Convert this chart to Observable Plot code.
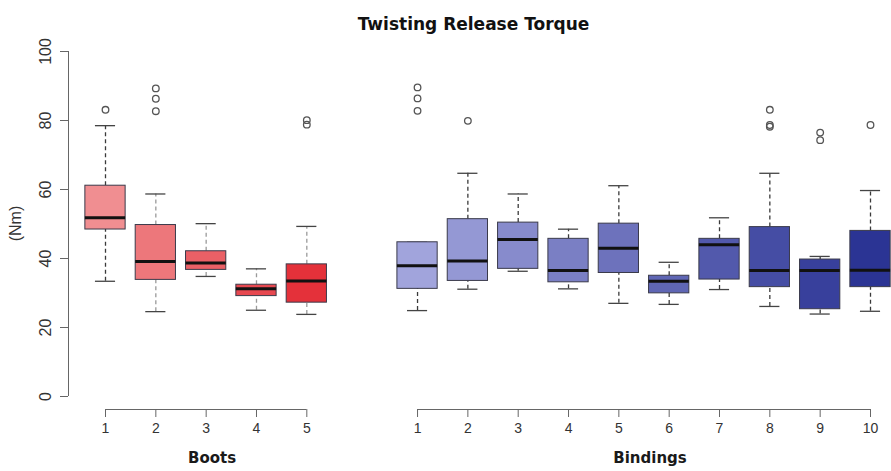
<!DOCTYPE html>
<html>
<head>
<meta charset="utf-8">
<script src="https://cdn.jsdelivr.net/npm/d3@7"></script>
<script src="https://cdn.jsdelivr.net/npm/@observablehq/plot@0.6"></script>
<style>
  html, body { margin: 0; padding: 0; background: #fff; }
  #chart { width: 891px; height: 471px; }
</style>
</head>
<body>
<div id="chart"></div>
<script>
// ---------- data ----------
const title = "Twisting Release Torque";
const yLabel = "(Nm)";
const yTicks = [0, 20, 40, 60, 80, 100];

const bootsName = "Boots";
const bootsLabels = ["1", "2", "3", "4", "5"];
const bootsLo  = [33.4, 24.6, 34.8, 25.0, 23.8];
const bootsQ1  = [48.4, 33.8, 36.7, 29.1, 27.2];
const bootsMed = [51.8, 39.1, 38.7, 31.2, 33.5];
const bootsQ3  = [61.1, 49.7, 42.1, 32.4, 38.3];
const bootsHi  = [78.5, 58.7, 50.1, 37.0, 49.3];
const bootsOut = [[83.1], [82.7, 86.3, 89.3], [], [], [78.8, 80.1]];

const bindingsName = "Bindings";
const bindingsLabels = ["1", "2", "3", "4", "5", "6", "7", "8", "9", "10"];
const bindingsLo  = [24.9, 31.1, 36.3, 31.2, 27.0, 26.7, 31.0, 26.1, 23.9, 24.7];
const bindingsQ1  = [31.2, 33.5, 37.0, 33.1, 35.8, 29.9, 33.9, 31.7, 25.3, 31.7];
const bindingsMed = [37.9, 39.3, 45.5, 36.5, 43.0, 33.4, 44.0, 36.5, 36.5, 36.6];
const bindingsQ3  = [44.7, 51.4, 50.4, 45.7, 50.1, 35.0, 45.7, 49.1, 39.7, 48.0];
const bindingsHi  = [44.7, 64.7, 58.7, 48.5, 61.1, 38.9, 51.8, 64.7, 40.6, 59.7];
const bindingsOut = [[82.8, 86.4, 89.6], [79.9], [], [], [], [], [], [78.2, 78.7, 83.1], [74.3, 76.5], [78.7]];

// ---------- layout (slot units) ----------
const bindingsOffset = 6.2;   // gap between the two panels, in slot units
const boxHalf = 0.4;
const capHalf = 0.2;
const W = 891, H = 471;
const mL = 68, mR = 21, mT = 51, mB = 62;
const firstPx = 105, lastPx = 870;
const lastSlot = bindingsLabels.length + bindingsOffset;
const pxPerSlot = (lastPx - firstPx) / (lastSlot - 1);
const xMin = 1 - (firstPx - mL) / pxPerSlot;

const bootsColor = d3.interpolateRgb("#f08e91", "#e4313a");
const bindingsColor = d3.interpolateRgb("#a1a4dc", "#2b3494");

function build(name, labels, lo, q1, med, q3, hi, out, offset, colorFn) {
  return labels.map((label, i) => ({
    group: name, label, slot: i + 1 + offset,
    lo: lo[i], q1: q1[i], med: med[i], q3: q3[i], hi: hi[i], out: out[i],
    color: colorFn(labels.length > 1 ? i / (labels.length - 1) : 0),
    whisker: (name === bootsName && i > 0) ? "#9a9a9a" : "#3a3a3a"
  }));
}
const rows = [
  ...build(bootsName, bootsLabels, bootsLo, bootsQ1, bootsMed, bootsQ3, bootsHi, bootsOut, 0, bootsColor),
  ...build(bindingsName, bindingsLabels, bindingsLo, bindingsQ1, bindingsMed, bindingsQ3, bindingsHi, bindingsOut, bindingsOffset, bindingsColor)
];
const outliers = rows.flatMap(r => r.out.map(v => ({slot: r.slot, v})));
const labelMap = new Map(rows.map(r => [r.slot, r.label]));
const groups = [bootsName, bindingsName].map(g => {
  const s = rows.filter(r => r.group === g).map(r => r.slot);
  return {name: g, a: d3.min(s), b: d3.max(s), mid: (d3.min(s) + d3.max(s)) / 2};
});

const boldFont = "'DejaVu Sans', Verdana, sans-serif";

const chart = Plot.plot({
  width: W, height: H,
  marginLeft: mL, marginRight: mR, marginTop: mT, marginBottom: mB,
  x: {domain: [xMin, lastSlot], axis: null},
  y: {domain: [0, 100], range: [H - mB - 13, mT], axis: null},
  style: {fontFamily: "'Liberation Sans', Arial, sans-serif", background: "#fff", color: "#333"},
  marks: [
    // y axis
    Plot.ruleX([xMin], {y1: 0, y2: 100, stroke: "#666"}),
    Plot.axisY(yTicks, {anchor: "left", tickSize: 8, tickFormat: () => "", stroke: "#666"}),
    Plot.text(yTicks, {x: xMin, y: d => d, text: d => String(d), rotate: -90, dx: -23,
      textAnchor: "middle", lineAnchor: "middle", fontSize: 16, fill: "#333"}),
    Plot.text([yLabel], {frameAnchor: "left", dx: -53, dy: -7, rotate: -90, fontSize: 16, fill: "#333",
      textAnchor: "middle", lineAnchor: "middle"}),
    // x axes
    Plot.ruleY(groups, {x1: "a", x2: "b", y: 0, dy: 13, stroke: "#666"}),
    Plot.axisX(rows.map(r => r.slot), {anchor: "bottom", tickSize: 8, tickPadding: 6,
      tickFormat: d => labelMap.get(d), fontSize: 14, stroke: "#666", fill: "#333"}),
    Plot.text(groups, {x: "mid", y: 0, dy: 62, dx: 6, text: "name", fontWeight: "bold", fontSize: 15,
      fontFamily: boldFont, fill: "#1a1a1a"}),
    // whiskers
    Plot.ruleX(rows, {x: "slot", y1: "q3", y2: "hi", stroke: "whisker", strokeDasharray: "4,3", strokeWidth: 1.3}),
    Plot.ruleX(rows, {x: "slot", y1: "lo", y2: "q1", stroke: "whisker", strokeDasharray: "4,3", strokeWidth: 1.3}),
    Plot.ruleY(rows, {x1: d => d.slot - capHalf, x2: d => d.slot + capHalf, y: "hi", stroke: "#444", strokeWidth: 1.3}),
    Plot.ruleY(rows, {x1: d => d.slot - capHalf, x2: d => d.slot + capHalf, y: "lo", stroke: "#444", strokeWidth: 1.3}),
    // boxes
    Plot.rect(rows, {x1: d => d.slot - boxHalf, x2: d => d.slot + boxHalf, y1: "q1", y2: "q3",
      fill: "color", stroke: "#3a3a4a", strokeWidth: 1}),
    Plot.ruleY(rows, {x1: d => d.slot - boxHalf, x2: d => d.slot + boxHalf, y: "med", stroke: "#111", strokeWidth: 3}),
    // outliers
    Plot.dot(outliers, {x: "slot", y: "v", r: 3.3, stroke: "#555", strokeWidth: 1.3, fill: "none"}),
    // title
    Plot.text([title], {frameAnchor: "top", dx: 4, dy: -34, fontSize: 17, fontWeight: "bold",
      fontFamily: boldFont, fill: "#111"})
  ]
});
document.getElementById("chart").appendChild(chart);
</script>
</body>
</html>
